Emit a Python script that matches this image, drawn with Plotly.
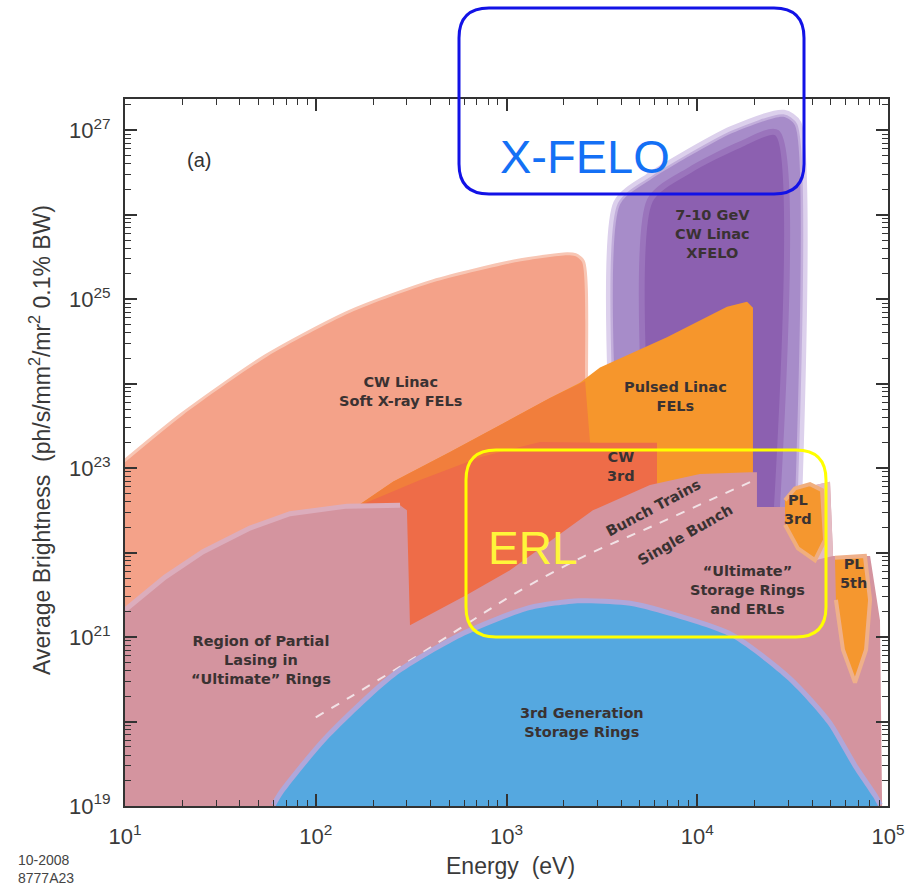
import numpy as np
import plotly.graph_objects as go

# ---------------- data (log10 energy [eV], log10 brightness) ----------------
cw_soft_logE = [1.000, 1.304, 1.744, 2.180, 2.615, 3.055, 3.317, 3.359, 3.396, 3.412, 3.412, 1.000]
cw_soft_logB = [23.07, 23.63, 24.32, 24.84, 25.20, 25.44, 25.52, 25.51, 25.44, 23.98, 20.90, 20.90]

xfelo_outer_logE = [3.595, 3.595, 3.752, 3.925, 4.187, 4.450, 4.512, 4.512]
xfelo_outer_logB = [22.54, 26.12, 26.41, 26.65, 26.97, 27.16, 27.06, 22.54]
xfelo_core_logE = [3.752, 3.752, 3.962, 4.224, 4.418, 4.418]
xfelo_core_logB = [22.54, 26.17, 26.53, 26.83, 26.97, 22.54]

pulsed_logE = [2.075, 2.405, 2.704, 2.966, 3.228, 3.385, 3.490, 3.841, 4.156, 4.261, 4.292, 4.292, 2.075]
pulsed_logB = [22.33, 22.84, 23.19, 23.51, 23.83, 24.01, 24.19, 24.55, 24.91, 24.97, 24.90, 22.15, 21.91]

band_logE = [2.075, 2.405, 2.704, 2.966, 3.228, 3.412, 3.438, 2.232]
band_logB = [22.33, 22.84, 23.19, 23.51, 23.83, 24.03, 23.30, 22.39]

cw3_logE = [2.232, 2.547, 2.861, 3.176, 3.490, 3.789, 3.789, 2.232]
cw3_logB = [22.56, 22.86, 23.13, 23.31, 23.30, 23.30, 21.44, 20.97]

ult_logE = [1.000, 1.210, 1.409, 1.655, 1.865, 2.164, 2.442, 2.478, 2.494, 2.793, 3.018, 3.228, 3.453,
            3.752, 4.014, 4.277, 4.313, 4.313, 4.502, 4.539, 4.696, 4.712, 4.906, 4.958, 4.969, 1.000]
ult_logB = [21.32, 21.71, 22.01, 22.29, 22.46, 22.55, 22.56, 22.50, 21.14, 21.50, 21.79, 22.13, 22.50,
            22.80, 22.93, 22.95, 22.95, 22.54, 22.54, 22.76, 22.84, 21.96, 21.96, 21.20, 19.00, 19.00]

pale_logE = [4.539, 4.696, 4.712, 4.617, 4.539]
pale_logB = [22.76, 22.84, 21.96, 21.91, 22.27]

pl3_logE = [4.460, 4.512, 4.591, 4.654, 4.670, 4.617, 4.528, 4.460]
pl3_logB = [22.62, 22.76, 22.81, 22.74, 22.15, 21.91, 22.05, 22.33]

pl5_logE = [4.722, 4.879, 4.906, 4.885, 4.827, 4.764, 4.727]
pl5_logB = [21.94, 21.96, 21.44, 20.85, 20.46, 20.85, 21.44]

dash_logE = [2.000, 2.180, 2.499, 2.782, 3.055, 3.401, 3.752, 4.104, 4.303]
dash_logB = [20.05, 20.29, 20.73, 21.14, 21.53, 21.95, 22.30, 22.66, 22.86]

sr3_logE = [1.790, 1.830, 2.059, 2.415, 2.782, 3.123, 3.385, 3.647, 3.873, 4.177, 4.476, 4.680, 4.817, 4.921, 4.948]
sr3_logB = [19.00, 19.15, 19.78, 20.53, 21.02, 21.32, 21.40, 21.37, 21.24, 21.00, 20.49, 19.98, 19.46, 19.11, 19.00]

x_tick_exponents = [1, 2, 3, 4, 5]
y_tick_exponents = [19, 20, 21, 22, 23, 24, 25, 26, 27]
y_label_exponents = [19, 21, 23, 25, 27]
minor_mults = [2, 3, 4, 5, 6, 7, 8, 9]

# ---------------- figure ----------------
W, H = 905, 886
L, R, T, B = 125, 17, 99, 80
PW, PH = W - L - R, H - T - B


def P(px, py):
    return (px - L) / PW, (H - B - py) / PH


def pw(v):
    return (10.0 ** np.array(v, dtype=float)).tolist()


fig = go.Figure()


def poly(le, lb, fill, line_color=None, line_width=0, shape="linear"):
    fig.add_trace(go.Scatter(
        x=pw(le), y=pw(lb), mode="lines", fill="toself",
        fillcolor=fill, line=dict(color=line_color or fill, width=line_width, shape=shape, smoothing=0.7),
        hoverinfo="skip", showlegend=False))


# CW linac soft x-ray FELs (soft halo then fill)
poly(cw_soft_logE, cw_soft_logB, "#F4A289", "#F8C6B4", 6, shape="spline")
poly(cw_soft_logE, cw_soft_logB, "#F4A289", shape="spline")
# XFELO column
poly(xfelo_outer_logE, xfelo_outer_logB, "#A78CC9", "#DCD0EC", 14, shape="spline")
poly(xfelo_outer_logE, xfelo_outer_logB, "#A78CC9", "#C2AEDB", 5, shape="spline")
poly(xfelo_outer_logE, xfelo_outer_logB, "#A78CC9", shape="spline")
poly(xfelo_core_logE, xfelo_core_logB, "#8C60B0", "#9A74BC", 6, shape="spline")
# pulsed linac FELs
poly(pulsed_logE, pulsed_logB, "#F6962C")
poly(band_logE, band_logB, "#F17E3C")
poly(cw3_logE, cw3_logB, "#EE6C48")
# ultimate rings
poly(ult_logE, ult_logB, "#D4949F")
fig.add_trace(go.Scatter(x=pw(ult_logE[:7]), y=pw(ult_logB[:7]), mode="lines",
                         line=dict(color="#DCADBC", width=5), hoverinfo="skip", showlegend=False))
poly(pale_logE, pale_logB, "#E4BCC4")
poly(pl3_logE, pl3_logB, "#F5972F", "#F0AE7E", 4)
poly(pl5_logE, pl5_logB, "#F5972F", "#EFB08A", 4)
fig.add_trace(go.Scatter(x=pw(dash_logE), y=pw(dash_logB), mode="lines",
                         line=dict(color="#F2E2E6", width=2, dash="dash", shape="spline"),
                         hoverinfo="skip", showlegend=False))
# 3rd generation storage rings
poly(sr3_logE, sr3_logB, "#55A8E0", "#B0A7DA", 10, shape="spline")
poly(sr3_logE, sr3_logB, "#55A8E0", shape="spline")

# ---------------- axes ----------------
axis_common = dict(type="log", showgrid=False, zeroline=False, showline=True, linecolor="#333333",
                   linewidth=2, mirror="allticks", ticks="inside", ticklen=12, tickwidth=1.5,
                   automargin=False,
                   tickcolor="#333333", tickfont=dict(family="Liberation Sans", size=22, color="#3A3A3A"))

fig.update_xaxes(**axis_common, range=[1, 5],
                 tickvals=[10.0 ** e for e in x_tick_exponents],
                 ticktext=[f"10<sup>{e}</sup>" for e in x_tick_exponents],
                 ticklabelstandoff=10,
                 minor=dict(tickvals=[m * 10.0 ** e for e in x_tick_exponents[:-1] for m in minor_mults],
                            ticks="inside", ticklen=6, tickcolor="#333333", tickwidth=1.2, showgrid=False))
fig.update_yaxes(**axis_common, range=[19, 27.37],
                 tickvals=[10.0 ** e for e in y_tick_exponents],
                 ticktext=[f"10<sup>{e}</sup>" if e in y_label_exponents else "" for e in y_tick_exponents],
                 ticklabelstandoff=8,
                 minor=dict(tickvals=[m * 10.0 ** e for e in y_tick_exponents for m in minor_mults],
                            ticks="inside", ticklen=6, tickcolor="#333333", tickwidth=1.2, showgrid=False))


def note(text, px, py, font, angle=0, xanchor="center", align="center"):
    x, y = P(px, py)
    fig.add_annotation(x=x, y=y, xref="paper", yref="paper", text=text, showarrow=False,
                       font=font, align=align, textangle=angle, xanchor=xanchor, yanchor="middle")


title_font = dict(family="Liberation Sans", size=23, color="#3A3A3A")
note("Energy  (eV)", 510, 866, title_font)
note("Average Brightness  (ph/s/mm<sup>2</sup>/mr<sup>2</sup> 0.1% BW)", 40, 440, title_font, angle=-90)

# ---------------- annotations ----------------
lab_font = dict(family="DejaVu Sans", size=14.5, color="#3A3232", weight="bold")
labels = [
    ("CW Linac<br>Soft X-ray FELs", 400, 391, 0),
    ("Pulsed Linac<br>FELs", 675, 396, 0),
    ("7-10 GeV<br>CW Linac<br>XFELO", 712, 234, 0),
    ("CW<br>3rd", 621, 466, 0),
    ("PL<br>3rd", 798, 509, 0),
    ("PL<br>5th", 853, 573, 0),
    ("\u201cUltimate\u201d<br>Storage Rings<br>and ERLs", 747, 590, 0),
    ("Region of Partial<br>Lasing in<br>\u201cUltimate\u201d Rings", 261, 660, 0),
    ("3rd Generation<br>Storage Rings", 582, 722, 0),
    ("Bunch Trains", 653, 508, -28),
    ("Single Bunch", 685, 535, -30),
]
for txt, px, py, ang in labels:
    note(txt, px, py, lab_font, angle=ang)

note("(a)", 199, 160, dict(family="Liberation Sans", size=20, color="#333333"))
note("10-2008<br>8777A23", 16, 869, dict(family="Liberation Sans", size=14, color="#444444"),
     xanchor="left", align="left")
note("X-FELO", 585, 156, dict(family="Liberation Sans", size=47, color="#1470F5"))
note("ERL", 532, 548, dict(family="Liberation Sans", size=46, color="#FFF53A"))


def rrect(x0, y0, x1, y1, r):
    def c(px, py):
        a, b = P(px, py)
        return f"{a:.5f},{b:.5f}"
    return (f"M {c(x0 + r, y0)} L {c(x1 - r, y0)} Q {c(x1, y0)} {c(x1, y0 + r)} "
            f"L {c(x1, y1 - r)} Q {c(x1, y1)} {c(x1 - r, y1)} L {c(x0 + r, y1)} "
            f"Q {c(x0, y1)} {c(x0, y1 - r)} L {c(x0, y0 + r)} Q {c(x0, y0)} {c(x0 + r, y0)} Z")


fig.add_shape(type="path", xref="paper", yref="paper", path=rrect(459, 8, 804, 194, 30),
              line=dict(color="#1212E6", width=3), layer="above")
fig.add_shape(type="path", xref="paper", yref="paper", path=rrect(466, 450, 826, 637, 30),
              line=dict(color="#FFFF00", width=3), layer="above")

fig.update_layout(width=W, height=H, margin=dict(l=L, r=R, t=T, b=B, autoexpand=False),
                  plot_bgcolor="white", paper_bgcolor="white", showlegend=False)

fig.write_html("out.html")
